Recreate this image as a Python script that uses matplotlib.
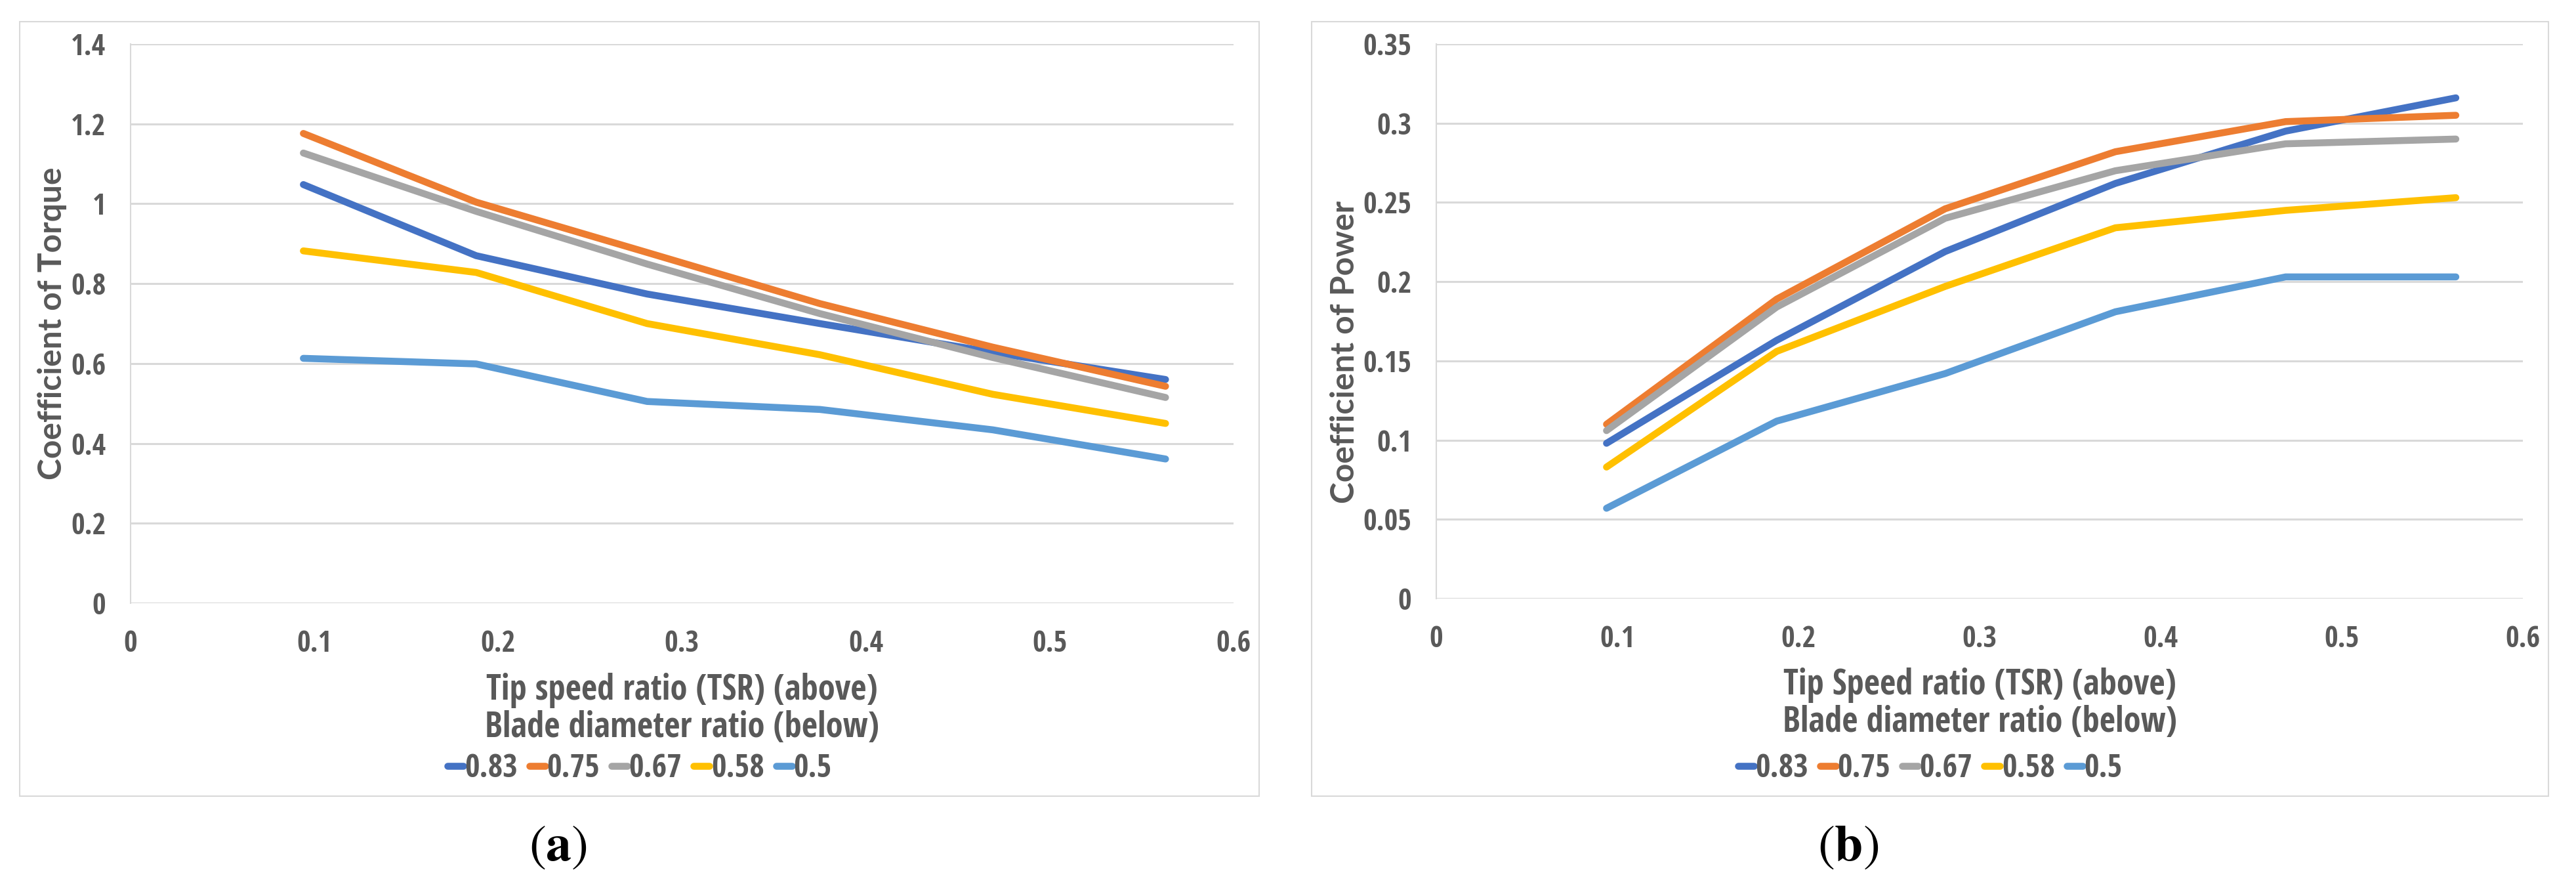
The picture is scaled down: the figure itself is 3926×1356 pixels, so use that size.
import matplotlib
matplotlib.use("Agg")
import matplotlib.pyplot as plt
from matplotlib import font_manager as fm
from matplotlib.textpath import TextPath
from matplotlib.patches import Rectangle
from matplotlib.lines import Line2D

# ---------------- data ----------------
tsr = [0.094, 0.188, 0.281, 0.375, 0.469, 0.563]
series_names = ["0.83", "0.75", "0.67", "0.58", "0.5"]
colors = ["#4472C4", "#ED7D31", "#A5A5A5", "#FFC000", "#5B9BD5"]

torque_083 = [1.048, 0.870, 0.774, 0.700, 0.628, 0.560]
torque_075 = [1.176, 1.004, 0.878, 0.750, 0.641, 0.543]
torque_067 = [1.127, 0.981, 0.849, 0.725, 0.615, 0.515]
torque_058 = [0.882, 0.828, 0.700, 0.622, 0.523, 0.450]
torque_050 = [0.613, 0.599, 0.505, 0.485, 0.434, 0.361]

power_083 = [0.098, 0.163, 0.219, 0.262, 0.295, 0.316]
power_075 = [0.110, 0.189, 0.246, 0.282, 0.301, 0.305]
power_067 = [0.106, 0.184, 0.240, 0.270, 0.287, 0.290]
power_058 = [0.083, 0.156, 0.197, 0.234, 0.245, 0.253]
power_050 = [0.057, 0.112, 0.142, 0.181, 0.203, 0.203]

x_ticks = [0, 0.1, 0.2, 0.3, 0.4, 0.5, 0.6]
x_tick_labels = ["0", "0.1", "0.2", "0.3", "0.4", "0.5", "0.6"]
torque_ticks = [0, 0.2, 0.4, 0.6, 0.8, 1.0, 1.2, 1.4]
torque_tick_labels = ["0", "0.2", "0.4", "0.6", "0.8", "1", "1.2", "1.4"]
power_ticks = [0, 0.05, 0.1, 0.15, 0.2, 0.25, 0.3, 0.35]
power_tick_labels = ["0", "0.05", "0.1", "0.15", "0.2", "0.25", "0.3", "0.35"]

W, H = 3926, 1356
DPI = 100

# ---------------- fonts ----------------
BASES = ["Liberation Sans", "Open Sans", "Noto Sans", "Roboto", "Lato", "Inter",
         "DejaVu Sans"]


def glyph_metrics(prop, s):
    p = prop.copy()
    p.set_size(100)
    ext = TextPath((0, 0), s, prop=p).get_extents()
    return ext.width / 100.0, ext.height / 100.0


def bold_candidates(allow_narrow):
    out = {}
    for f in fm.fontManager.ttflist:
        if f.style != "normal" or "italic" in f.fname.lower() \
                or "oblique" in f.fname.lower():
            continue
        w = f.weight if isinstance(f.weight, int) else 400
        if not (650 <= w <= 720):
            continue
        ok = False
        for b in BASES:
            if f.name == b:
                ok = True
            elif f.name.startswith(b + " "):
                rest = f.name[len(b):]
                if "Condensed" in rest or "Narrow" in rest:
                    ok = True
        if not ok:
            continue
        narrow = ("Condensed" in f.name or "Narrow" in f.name
                  or f.stretch != "normal" or "condensed" in f.fname.lower()
                  or "narrow" in f.fname.lower())
        if narrow and not allow_narrow:
            continue
        if "Extra" in f.name or "Ultra" in f.name:
            continue
        out[f.fname] = f.name
    return list(out.keys())


def best_font(sample, target_ratio, cap_char, allow_narrow):
    best = None
    for path in bold_candidates(allow_narrow):
        try:
            prop = fm.FontProperties(fname=path)
            w, _ = glyph_metrics(prop, sample)
            _, ch = glyph_metrics(prop, cap_char)
            if ch <= 0:
                continue
            score = abs(w / ch - target_ratio)
        except Exception:
            continue
        if best is None or score < best[0]:
            best = (score, path)
    if best is None:
        return fm.FontProperties(family="DejaVu Sans", weight="bold")
    return fm.FontProperties(fname=best[1])


# reference: "Tip speed ratio (TSR) (above)" ~594 px wide, cap height ~39 px
LABEL_FONT = best_font("Tip speed ratio (TSR) (above)", 594 / 39.0, "T", True)
# reference: "Coefficient of Torque" ~473 px long, cap height ~40 px
YLAB_FONT = best_font("Coefficient of Torque", 473 / 40.0, "C", False)


def size_for_width(prop, s, target_px):
    w, _ = glyph_metrics(prop, s)
    return target_px * 72.0 / DPI / w


TICK_SIZE = size_for_width(LABEL_FONT, "0.6", 50)
XLAB_SIZE = size_for_width(LABEL_FONT, "Tip speed ratio (TSR) (above)", 594)
LEG_SIZE = size_for_width(LABEL_FONT, "0.83", 77)
YLAB_SIZE = size_for_width(YLAB_FONT, "Coefficient of Torque", 473)

# ---------------- figure ----------------
fig = plt.figure(figsize=(W / DPI, H / DPI), dpi=DPI)
fig.patch.set_facecolor("white")

TEXT_C = "#595959"
GRID_C = "#D9D9D9"
LW = 7.6


def fx(px):
    return px / W


def fy(py):
    return 1 - py / H


def fp(base, size):
    p = base.copy()
    p.set_size(size)
    return p


def panel(ax_box, frame_box, series, yticks, ylabels, ylabel_txt, xlab1, ylab_cy,
          ylab_x, xlab_base, leg_y, label_txt, label_x):
    l, t, r, b = ax_box
    ax = fig.add_axes([fx(l), fy(b), fx(r) - fx(l), fy(t) - fy(b)])
    fl, ft, fr, fb = frame_box
    fig.add_artist(Rectangle((fx(fl), fy(fb)), fx(fr) - fx(fl), fy(ft) - fy(fb),
                             transform=fig.transFigure, fill=False,
                             edgecolor=GRID_C, linewidth=1.5))
    for vals, c in zip(series, colors):
        ax.plot(tsr, vals, color=c, linewidth=LW, solid_capstyle="round",
                solid_joinstyle="round", zorder=3)
    ax.set_xlim(0, 0.6)
    ax.set_ylim(yticks[0], yticks[-1])
    ax.set_xticks(x_ticks)
    ax.set_xticklabels(x_tick_labels)
    ax.set_yticks(yticks)
    ax.set_yticklabels(ylabels)
    for s in ["top", "right", "bottom"]:
        ax.spines[s].set_visible(False)
    ax.spines["left"].set_color(GRID_C)
    ax.spines["left"].set_linewidth(1.5)
    ax.yaxis.grid(True, color=GRID_C, linewidth=2.2, zorder=0)
    ax.set_axisbelow(True)
    ax.tick_params(axis="both", length=0, labelcolor=TEXT_C)
    ax.tick_params(axis="y", pad=27)
    ax.tick_params(axis="x", pad=29)
    for lab in ax.get_xticklabels() + ax.get_yticklabels():
        lab.set_fontproperties(fp(LABEL_FONT, TICK_SIZE))
    cx = (fx(l) + fx(r)) / 2
    fig.text(cx, fy(xlab_base), xlab1, ha="center", va="baseline",
             fontproperties=fp(LABEL_FONT, XLAB_SIZE), color=TEXT_C)
    fig.text(cx, fy(xlab_base + 57), "Blade diameter ratio (below)", ha="center",
             va="baseline", fontproperties=fp(LABEL_FONT, XLAB_SIZE), color=TEXT_C)
    fig.text(fx(ylab_x), fy(ylab_cy), ylabel_txt, rotation=90, ha="center",
             va="center", fontproperties=fp(YLAB_FONT, YLAB_SIZE), color=TEXT_C)
    handles = [Line2D([0], [0], color=c, linewidth=LW, solid_capstyle="round")
               for c in colors]
    leg_px = LEG_SIZE * DPI / 72
    fcx = (fx(fl) + fx(fr)) / 2
    leg = fig.legend(handles, series_names, loc="center",
                     bbox_to_anchor=(fcx, fy(leg_y)), ncol=5, frameon=False,
                     handlelength=24 / leg_px, handletextpad=0.05,
                     columnspacing=18 / leg_px, borderpad=0,
                     prop=fp(LABEL_FONT, LEG_SIZE))
    for txt in leg.get_texts():
        txt.set_color(TEXT_C)
    fig.text(fx(label_x), fy(1289), label_txt, ha="center", va="center",
             fontsize=56, color="black", math_fontfamily="stix")
    return ax


panel((199, 67, 1880, 919), (30, 33, 1919, 1213),
      [torque_083, torque_075, torque_067, torque_058, torque_050],
      torque_ticks, torque_tick_labels, "Coefficient of Torque",
      "Tip speed ratio (TSR) (above)", 493, 80, 1066, 1172, r"$(\mathbf{a})$", 850)

panel((2189, 67, 3845, 912), (1999, 33, 3884, 1213),
      [power_083, power_075, power_067, power_058, power_050],
      power_ticks, power_tick_labels, "Coefficient of Power",
      "Tip Speed ratio (TSR) (above)", 536, 2050, 1058, 1172, r"$(\mathbf{b})$", 2817)

fig.savefig("out.png", dpi=DPI, facecolor="white")
